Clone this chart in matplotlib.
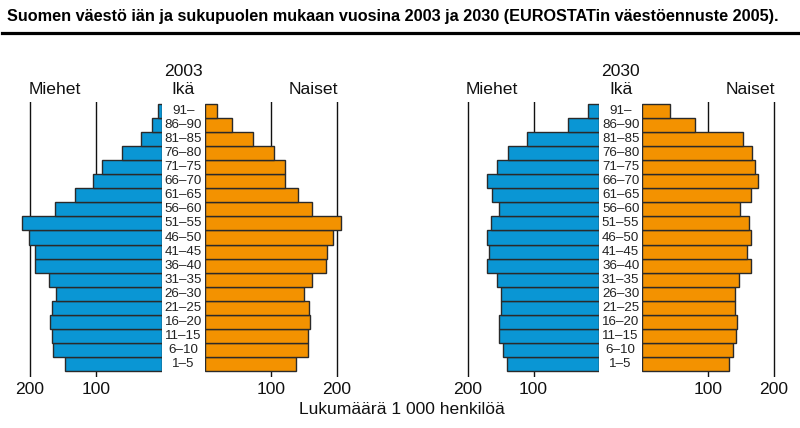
import matplotlib
matplotlib.use("Agg")
import matplotlib.pyplot as plt

ages = ["1–5", "6–10", "11–15", "16–20", "21–25", "26–30", "31–35", "36–40",
        "41–45", "46–50", "51–55", "56–60", "61–65", "66–70", "71–75", "76–80",
        "81–85", "86–90", "91–"]

men_2003 = [147, 165, 166, 169, 167, 160, 171, 192, 192, 201, 213, 162, 132, 104, 91, 61, 31, 14, 6]
women_2003 = [139, 156, 157, 160, 158, 151, 163, 184, 185, 195, 207, 163, 141, 121, 122, 105, 73, 41, 18]
men_2030 = [140, 147, 152, 153, 150, 150, 155, 171, 167, 171, 165, 152, 163, 170, 156, 139, 110, 47, 17]
women_2030 = [132, 139, 143, 144, 141, 142, 148, 165, 160, 165, 163, 149, 165, 176, 171, 167, 153, 81, 43]

years = ["2003", "2030"]
tick_vals = [100, 200]
tick_labels = ["100", "200"]

BLUE = "#0a96d4"
ORANGE = "#f39200"
EDGE = "#2a2a2a"

W, H = 800, 428
fig = plt.figure(figsize=(W / 100, H / 100), dpi=100)
plt.rcParams["font.family"] = ["Liberation Sans", "DejaVu Sans"]

LBL = 12.6
AGE = 9.6

S = 0.658          # px per unit
XMAX = 230
Y_TOP, Y_BOT = 101.7, 376.7
ROW = 14.05
BAR_BOT = 371.0
ylo = -0.5 - (Y_BOT - BAR_BOT) / ROW
yhi = ylo + (Y_BOT - Y_TOP) / ROW


def make_ax(x_left_px, x_right_px):
    return fig.add_axes([x_left_px / W, 1 - Y_BOT / H,
                         (x_right_px - x_left_px) / W, (Y_BOT - Y_TOP) / H])


def style(ax, invert):
    ax.set_ylim(ylo, yhi)
    if invert:
        ax.set_xlim(XMAX, 0)
    else:
        ax.set_xlim(0, XMAX)
    for sp in ax.spines.values():
        sp.set_visible(False)
    ax.set_yticks([])
    ax.set_xticks(tick_vals)
    ax.set_xticklabels(tick_labels, fontsize=LBL, color="#111111")
    ax.tick_params(axis="x", length=0, pad=4)
    ax.patch.set_alpha(0)
    for v in tick_vals:
        ax.axvline(v, color="#111111", lw=1.0, zorder=0)


panels = [
    (161.7, 205.0, men_2003, women_2003, years[0]),
    (599.3, 642.0, men_2030, women_2030, years[1]),
]
ypos = list(range(len(ages)))
for mzero, fzero, men, women, yr in panels:
    axm = make_ax(mzero - XMAX * S, mzero)
    axf = make_ax(fzero, fzero + XMAX * S)
    style(axm, True)
    style(axf, False)
    axm.barh(ypos, men, height=1.0, color=BLUE, edgecolor=EDGE, linewidth=1.0, zorder=2)
    axf.barh(ypos, women, height=1.0, color=ORANGE, edgecolor=EDGE, linewidth=1.0, zorder=2)
    cx = (mzero + fzero) / 2
    for i, a in enumerate(ages):
        yp = BAR_BOT - ROW * (i + 0.5)
        fig.text(cx / W, 1 - yp / H, a, ha="center", va="center", fontsize=AGE, color="#222222")
    fig.text(cx / W, 1 - 72 / H, yr, ha="center", va="center", fontsize=LBL, color="#111111")
    fig.text(cx / W, 1 - 90 / H, "Ikä", ha="center", va="center", fontsize=LBL, color="#111111")
    fig.text((mzero - 107) / W, 1 - 90 / H, "Miehet", ha="center", va="center", fontsize=LBL, color="#111111")
    fig.text((fzero + 108) / W, 1 - 90 / H, "Naiset", ha="center", va="center", fontsize=LBL, color="#111111")

fig.text(402 / W, 1 - 410 / H, "Lukumäärä 1 000 henkilöä", ha="center", va="center",
         fontsize=LBL, color="#111111")

fig.text(7 / W, 1 - 17 / H, "Suomen väestö iän ja sukupuolen mukaan vuosina 2003 ja 2030 (EUROSTATin väestöennuste 2005).",
         ha="left", va="center", fontsize=11.7, fontweight="bold", color="#000000")
fig.add_artist(plt.Line2D([2 / W, 798 / W], [1 - 32.5 / H, 1 - 32.5 / H], color="black", lw=2.3))

fig.savefig("out.png", dpi=100)
